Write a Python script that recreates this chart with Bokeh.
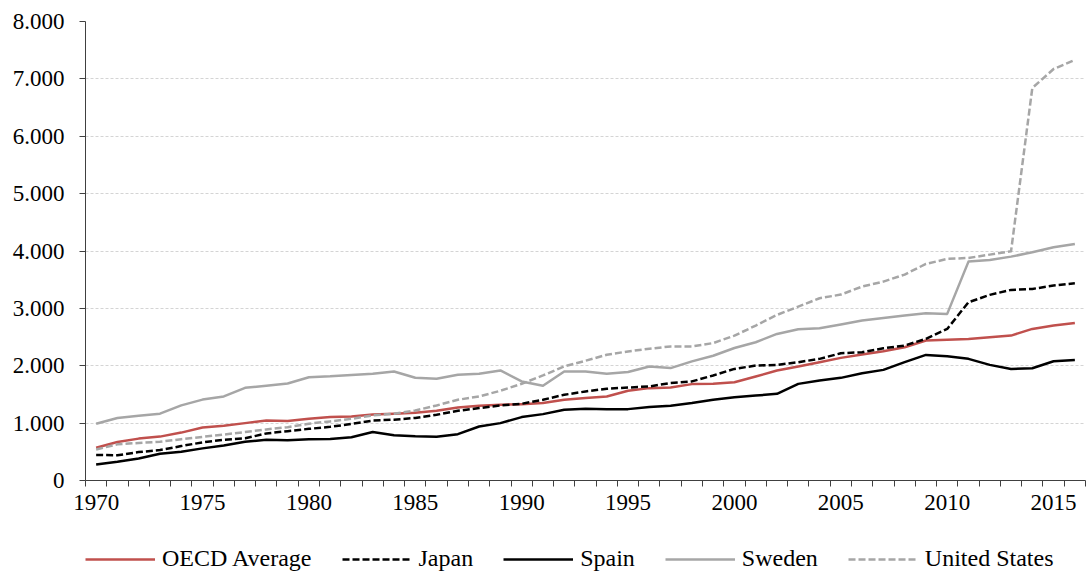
from bokeh.plotting import figure
from bokeh.models import FixedTicker, Legend, LegendItem, Range1d
from bokeh.layouts import column
from bokeh.embed import file_html
from bokeh.resources import INLINE

years = list(range(1970, 2017))

oecd = [570, 670, 730, 765, 835, 925, 955, 1000, 1045, 1035,
        1075, 1105, 1115, 1150, 1165, 1180, 1215, 1273, 1302, 1320,
        1331, 1349, 1407, 1436, 1465, 1564, 1610, 1622, 1680, 1686,
        1713, 1812, 1916, 1986, 2062, 2137, 2195, 2253, 2323, 2439,
        2451, 2468, 2497, 2526, 2642, 2700, 2747]

japan = [445, 440, 495, 530, 600, 665, 710, 735, 820, 860,
         900, 935, 985, 1045, 1060, 1090, 1145, 1215, 1262, 1308,
         1337, 1407, 1494, 1552, 1599, 1620, 1640, 1698, 1727, 1831,
         1945, 2003, 2015, 2062, 2120, 2218, 2236, 2305, 2352, 2468,
         2642, 3107, 3235, 3322, 3339, 3397, 3438]

spain = [280, 325, 385, 465, 500, 560, 610, 675, 710, 700,
         720, 725, 755, 845, 790, 770, 762, 808, 942, 1000,
         1105, 1157, 1233, 1250, 1244, 1244, 1279, 1302, 1349, 1407,
         1450, 1481, 1510, 1684, 1742, 1789, 1870, 1928, 2062, 2189,
         2166, 2120, 2015, 1945, 1957, 2079, 2102]

sweden = [990, 1090, 1130, 1165, 1310, 1410, 1465, 1615, 1650, 1690,
          1800, 1815, 1840, 1860, 1900, 1790, 1773, 1843, 1860, 1919,
          1727, 1651, 1901, 1901, 1860, 1890, 1988, 1959, 2076, 2174,
          2310, 2410, 2555, 2636, 2654, 2718, 2787, 2834, 2875, 2915,
          2904, 3815, 3844, 3902, 3978, 4065, 4123]

united_states = [540, 630, 655, 675, 720, 760, 800, 845, 890, 930,
                 990, 1030, 1075, 1135, 1165, 1220, 1308, 1407, 1465, 1564,
                 1686, 1831, 1988, 2087, 2192, 2250, 2297, 2337, 2337, 2395,
                 2525, 2700, 2886, 3031, 3177, 3240, 3380, 3467, 3589, 3775,
                 3862, 3879, 3937, 3995, 6841, 7172, 7329]

series_names = ["OECD Average", "Japan", "Spain", "Sweden", "United States"]
x_labels = [1970, 1975, 1980, 1985, 1990, 1995, 2000, 2005, 2010, 2015]
y_ticks = [0, 1000, 2000, 3000, 4000, 5000, 6000, 7000, 8000]
y_labels = ["0", "1.000", "2.000", "3.000", "4.000", "5.000", "6.000", "7.000", "8.000"]

FONT = "Liberation Serif"
AXIS_COLOR = "#404040"

p = figure(width=1088, height=530, output_backend="svg", toolbar_location=None,
           x_range=(years[0] - 0.5, years[-1] + 0.5), y_range=(0, 8000),
           min_border_left=85, min_border_right=3, min_border_top=21,
           min_border_bottom=50)
p.outline_line_color = None
p.background_fill_color = "white"
p.border_fill_color = "white"

p.xgrid.grid_line_color = None
p.ygrid.grid_line_color = "#d4d4d4"
p.ygrid.grid_line_dash = "3 2"
p.ygrid.grid_line_width = 1

# x axis: category boundaries as minor ticks, labels at category centres
p.xaxis.ticker = FixedTicker(ticks=x_labels,
                             minor_ticks=[y - 0.5 for y in years] + [years[-1] + 0.5])
p.xaxis.major_tick_line_color = None
p.xaxis.major_tick_out = 6
p.xaxis.major_tick_in = 0
p.xaxis.minor_tick_out = 6
p.xaxis.minor_tick_in = 0
p.xaxis.minor_tick_line_color = AXIS_COLOR
p.xaxis.minor_tick_line_width = 1
p.xaxis.axis_line_color = AXIS_COLOR
p.xaxis.major_label_standoff = 8
p.xaxis.major_label_text_font = FONT
p.xaxis.major_label_text_font_size = "23px"
p.xaxis.major_label_text_color = "black"

p.yaxis.ticker = FixedTicker(ticks=y_ticks)
p.yaxis.major_label_overrides = {t: l for t, l in zip(y_ticks, y_labels)}
p.yaxis.minor_tick_line_color = None
p.yaxis.major_tick_out = 6
p.yaxis.major_tick_in = 0
p.yaxis.major_tick_line_color = AXIS_COLOR
p.yaxis.axis_line_color = AXIS_COLOR
p.yaxis.major_label_standoff = 15
p.yaxis.major_label_text_font = FONT
p.yaxis.major_label_text_font_size = "23px"
p.yaxis.major_label_text_color = "black"

styles = [
    dict(line_color="#c0504d", line_dash="solid"),
    dict(line_color="black", line_dash="7 3"),
    dict(line_color="black", line_dash="solid"),
    dict(line_color="#a6a6a6", line_dash="solid"),
    dict(line_color="#a6a6a6", line_dash="7 3"),
]
data = [oecd, japan, spain, sweden, united_states]

for name, vals, st in zip(series_names, data, styles):
    p.line(years, vals, line_width=2.5, line_join="round", **st)

# legend strip below the chart (its frame is aligned with the chart frame)
lg = figure(width=1088, height=46, output_backend="svg", toolbar_location=None,
            x_range=Range1d(0, 1), y_range=Range1d(0, 1),
            x_axis_type=None, y_axis_type=None,
            min_border_left=85, min_border_right=3, min_border_top=0,
            min_border_bottom=0)
lg.outline_line_color = None
lg.xgrid.grid_line_color = None
lg.ygrid.grid_line_color = None

items = []
for name, vals, st in zip(series_names, data, styles):
    r = lg.line(years, vals, line_width=2.5, visible=False, **st)
    items.append(LegendItem(label=name, renderers=[r]))

legend = Legend(items=items, orientation="horizontal", location=(0, 4),
                padding=0, margin=0, spacing=30, glyph_width=70, glyph_height=20,
                label_standoff=7, label_text_font=FONT, label_text_font_size="24px",
                label_text_color="black", label_height=20,
                inactive_fill_alpha=0, click_policy="none",
                border_line_color=None, background_fill_alpha=0)
lg.add_layout(legend)

layout = column(p, lg, spacing=0)
open("out.html", "w").write(file_html(layout, INLINE))
